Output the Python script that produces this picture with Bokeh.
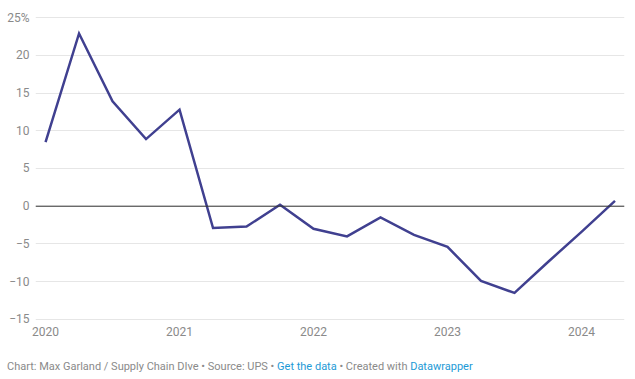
from bokeh.plotting import figure
from bokeh.models import Range1d, FixedTicker, Span, Div
from bokeh.layouts import column
from bokeh.embed import file_html
from bokeh.resources import INLINE

# Quarterly change (%), 2020 Q1 .. 2024 Q2
quarters = [2020.0, 2020.25, 2020.5, 2020.75,
            2021.0, 2021.25, 2021.5, 2021.75,
            2022.0, 2022.25, 2022.5, 2022.75,
            2023.0, 2023.25, 2023.5, 2023.75,
            2024.0, 2024.25]
values = [8.5, 22.9, 13.9, 8.9,
          12.8, -2.9, -2.7, 0.2,
          -3.0, -4.0, -1.5, -3.8,
          -5.4, -9.9, -11.5, -7.4,
          -3.4, 0.7]

x_ticks = [2020, 2021, 2022, 2023, 2024]
x_labels = ["2020", "2021", "2022", "2023", "2024"]
y_ticks = [-15, -10, -5, 0, 5, 10, 15, 20, 25]
y_labels = ["\u221215", "\u221210", "\u22125", "0", "5", "10", "15", "20", "25%"]

FONT = "Roboto"

p = figure(width=635, height=358, output_backend="svg", toolbar_location=None,
           x_range=Range1d(2019.925, 2024.321), y_range=Range1d(-15.29, 25.95),
           min_border_left=35, min_border_right=11, min_border_top=10, min_border_bottom=37)
p.outline_line_color = None
p.background_fill_color = "white"
p.border_fill_color = "white"

p.xgrid.grid_line_color = None
p.ygrid.grid_line_color = "#e6e6e6"
p.ygrid.grid_line_width = 1

p.xaxis.ticker = FixedTicker(ticks=x_ticks)
p.xaxis.major_label_overrides = {t: l for t, l in zip(x_ticks, x_labels)}
p.yaxis.ticker = FixedTicker(ticks=y_ticks)
p.yaxis.major_label_overrides = {t: l for t, l in zip(y_ticks, y_labels)}

for ax in (p.xaxis, p.yaxis):
    ax.axis_line_color = None
    ax.major_tick_line_color = None
    ax.minor_tick_line_color = None
    ax.major_tick_out = 0
    ax.major_tick_in = 0
    ax.minor_tick_out = 0
    ax.minor_tick_in = 0
    ax.major_label_text_font = FONT
    ax.major_label_text_font_size = "12px"
    ax.major_label_text_color = "#8a8a8a"
p.yaxis.major_label_standoff = 6
p.xaxis.major_label_standoff = 5

p.add_layout(Span(location=0, dimension="width", line_color="#333333", line_width=1))

p.line(quarters, values, line_color="#404090", line_width=2.5, line_join="miter")

footer = Div(
    text=('<span style="color:#8a8a8a">Chart: Max Garland / Supply Chain DIve \u2022 Source: UPS \u2022 </span>'
          '<span style="color:#1d9ad6">Get the data</span>'
          '<span style="color:#8a8a8a"> \u2022 Created with </span>'
          '<span style="color:#1d9ad6">Datawrapper</span>'),
    width=635, height=20, margin=(0, 0, 0, 0),
    styles={"font-family": FONT, "font-size": "11px", "line-height": "14px",
            "padding-top": "2px", "padding-left": "7px"})

layout = column(p, footer, spacing=0)

open("out.html", "w").write(file_html(layout, INLINE))
